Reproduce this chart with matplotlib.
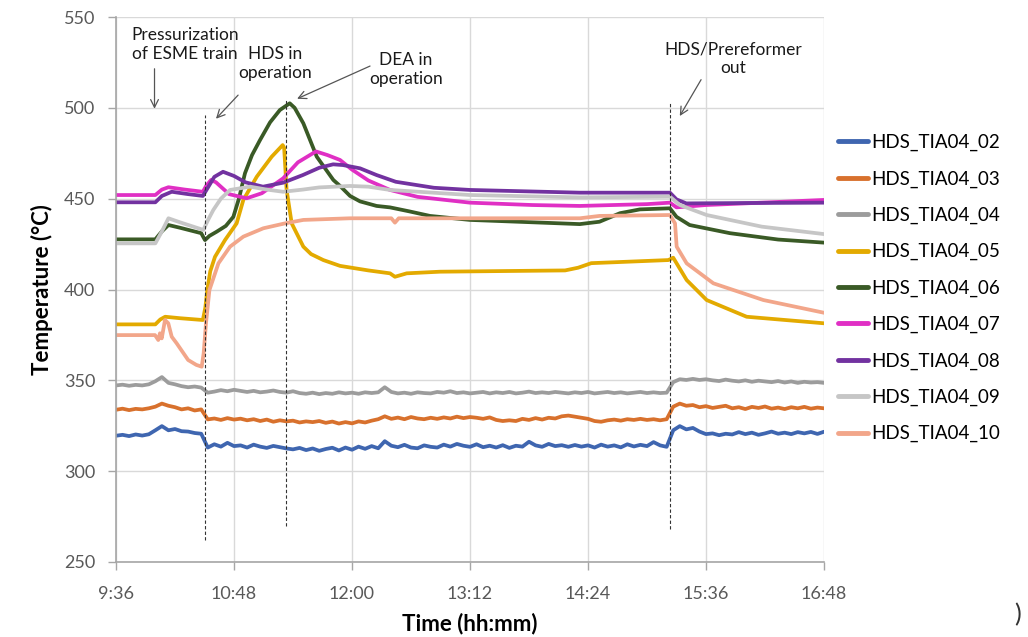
import matplotlib
matplotlib.use("Agg")
import matplotlib.pyplot as plt
from matplotlib.ticker import FixedLocator, FuncFormatter

plt.rcParams['font.family'] = ['Lato', 'DejaVu Sans']

# ---------------- data (time in minutes since midnight, temperature in degC) ----------------
labels = ["HDS_TIA04_02", "HDS_TIA04_03", "HDS_TIA04_04", "HDS_TIA04_05", "HDS_TIA04_06",
          "HDS_TIA04_07", "HDS_TIA04_08", "HDS_TIA04_09", "HDS_TIA04_10"]
colors = ["#3F66B0", "#D8712D", "#9C9C9C", "#E3AA00", "#3A5A26",
          "#E02FC4", "#7232A0", "#C6C6C6", "#F2A68A"]

# noisy series share a 4-minute time grid 9:36 ... 16:48
t_noisy = list(range(576, 1009, 4))

t02_vals = [
    319.5, 320.0, 319.3, 320.2, 319.6, 320.3, 322.5, 324.8, 322.5, 323.2,
    322.0, 321.8, 321.0, 320.6, 313.0, 314.8, 313.5, 315.6, 313.8, 314.2,
    313.0, 314.6, 313.5, 312.8, 313.9, 313.2, 312.5, 312.0, 312.8, 311.6,
    312.5, 311.2, 312.2, 312.9, 311.4, 313.0, 311.8, 313.5, 312.3, 313.8,
    312.6, 316.5, 314.0, 313.2, 314.5, 313.0, 312.6, 314.2, 313.4, 313.0,
    314.6, 313.5, 315.0, 314.0, 313.4, 314.8, 313.2, 314.0, 313.0, 314.3,
    312.8, 314.0, 313.5, 316.2, 314.2, 313.4, 315.0, 313.8, 314.3, 313.4,
    314.4, 313.5, 314.2, 313.0, 314.6, 313.5, 314.2, 313.1, 314.8, 313.6,
    314.5, 313.8, 316.0, 314.2, 313.4, 322.5, 324.8, 323.0, 323.8, 321.8,
    320.4, 320.8, 319.8, 320.6, 320.2, 321.5, 320.4, 321.2, 320.0, 320.8,
    321.8, 320.6, 321.2, 320.4, 321.5, 320.8, 321.6, 320.5, 321.7]

t03_vals = [
    333.8, 334.4, 333.6, 334.3, 334.0, 334.6, 335.5, 337.2, 336.0, 335.2,
    334.0, 334.6, 333.4, 334.0, 328.5, 329.0, 328.2, 329.2, 328.4, 328.9,
    328.0, 328.6, 327.6, 328.4, 327.2, 328.0, 327.4, 327.8, 326.8, 327.4,
    327.0, 327.6, 326.6, 327.3, 326.2, 327.0, 326.3, 327.4, 326.8, 327.8,
    328.6, 330.2, 328.8, 329.5, 328.6, 329.8, 329.0, 328.6, 329.4, 328.8,
    329.6, 329.0, 330.0, 329.2, 329.8, 329.4, 328.8, 329.6, 328.2, 327.6,
    328.0, 327.6, 328.8, 328.2, 329.2, 328.4, 329.4, 329.0, 330.2, 330.6,
    330.0, 329.4, 328.8, 327.6, 327.2, 328.0, 328.4, 327.8, 328.6, 328.2,
    328.8, 328.2, 328.6, 328.0, 328.6, 335.5, 337.2, 336.0, 336.4, 335.2,
    335.8, 334.8, 335.4, 336.0, 334.6, 335.2, 334.2, 335.4, 334.8, 335.6,
    334.4, 335.0, 334.2, 335.2, 334.6, 335.4, 334.4, 335.0, 334.6]

t04_vals = [
    347.2, 347.6, 347.0, 347.5, 347.2, 347.8, 349.5, 351.8, 348.6, 347.8,
    346.8, 346.2, 346.6, 346.0, 343.2, 343.8, 344.6, 344.0, 344.8, 344.2,
    343.6, 344.2, 343.4, 343.8, 344.4, 343.6, 343.2, 344.0, 343.0, 342.6,
    343.2, 342.4, 343.0, 342.6, 343.4, 342.8, 343.2, 342.6, 343.4, 343.0,
    343.4, 346.2, 343.6, 342.8, 343.2, 342.6, 343.4, 343.0, 342.8, 343.6,
    343.2, 344.0, 343.0, 343.4, 342.8, 343.2, 343.6, 342.8, 343.4, 343.0,
    343.6, 342.8, 343.2, 343.8, 343.0, 343.4, 343.0, 343.6, 343.2, 342.8,
    343.4, 343.0, 343.6, 342.8, 343.2, 343.6, 343.0, 343.4, 342.8, 343.2,
    343.6, 343.0, 343.4, 343.0, 343.2, 349.0, 350.6, 350.2, 350.8, 350.2,
    350.6, 350.0, 349.6, 350.4, 349.8, 349.4, 350.0, 349.2, 349.8, 349.4,
    349.0, 349.6, 348.8, 349.4, 348.6, 349.2, 348.8, 349.0, 348.6]

t05_time = [576, 600, 603, 606, 615, 629, 630.5, 631.7, 633.5, 636.4, 642.5, 649.6, 653.7,
            661.9, 671, 677.7, 678.6, 680.1, 683.2, 690.3, 695, 702.5, 712.7, 730, 743.2,
            746.2, 753.4, 773.7, 850, 858, 866, 880, 913, 916, 924.2, 936.4, 960.8, 1008]
t05_vals = [380.8, 380.8, 383.5, 385.0, 384.2, 383.2, 390.0, 399.7, 410.0, 418.0, 427.2, 436.4, 449.3,
            462.1, 473.1, 479.5, 478.0, 454.8, 436.4, 423.6, 419.5, 416.2, 413.0, 410.5, 408.9,
            407.0, 408.9, 409.8, 410.5, 412.0, 414.5, 415.0, 416.2, 417.5, 405.2, 394.2, 385.0, 381.4]

t06_time = [576, 600, 604, 608, 615, 628, 630.3, 633, 637.4, 643, 647.6, 651, 654.7, 659,
            663.9, 670, 676, 682, 685, 690.3, 698.5, 708.6, 712.7, 718.8, 724.9, 735, 743.2,
            755, 767.6, 792, 830, 859, 871, 883.5, 895.7, 914, 918, 926, 950.6, 980, 1008]
t06_vals = [427.6, 427.6, 432.0, 435.5, 434.0, 431.0, 427.2, 429.5, 431.8, 435.0, 440.0, 450.0, 464.0, 474.0,
            482.3, 492.0, 498.8, 502.5, 500.0, 491.5, 473.1, 460.3, 457.0, 451.5, 448.5, 446.0, 445.2,
            443.0, 440.5, 438.3, 437.0, 436.0, 437.3, 442.0, 444.1, 444.7, 440.0, 435.5, 431.0, 427.5, 425.8]

t07_time = [576, 600, 604, 608, 618, 629, 631, 634, 637, 645, 655.7, 665, 678, 687, 698,
            705, 712.7, 720, 730, 743.2, 760, 792, 830, 859, 900, 914, 918, 936, 970, 1008]
t07_vals = [452.0, 452.0, 455.0, 456.3, 455.0, 453.8, 457.0, 460.3, 459.0, 452.5, 450.2, 453.0, 461.2, 470.0, 476.0,
            474.0, 471.3, 466.0, 460.0, 454.8, 451.0, 447.8, 446.5, 446.0, 447.0, 447.8, 445.2, 446.5, 447.8, 449.3]

t08_time = [576, 600, 604, 610, 620, 629, 632, 636, 641.3, 648, 655, 665.7, 678, 690,
            700, 708.5, 714.5, 724.9, 735, 746.7, 770, 792, 859, 914, 918, 924, 960, 1008]
t08_vals = [448.0, 448.0, 451.5, 453.8, 452.5, 451.5, 456.0, 462.0, 464.8, 462.5, 459.0, 456.6, 458.8, 463.0,
            467.0, 468.9, 468.5, 466.7, 463.0, 459.3, 456.0, 454.8, 453.3, 453.3, 449.6, 447.4, 447.6, 447.8]

t09_time = [576, 600, 604, 608, 615, 629.3, 632, 635.4, 640, 645.6, 657.8, 668, 678, 690,
            700, 718.8, 730, 743.2, 792, 859, 914, 920, 936.4, 970, 1008]
t09_vals = [425.4, 425.4, 432.0, 439.2, 437.0, 432.8, 438.0, 443.8, 450.0, 454.8, 456.6, 455.0, 453.8, 455.0,
            456.2, 457.0, 456.6, 454.8, 452.0, 450.7, 451.1, 446.5, 441.0, 434.6, 430.5]

t10_time = [576, 599.8, 601.8, 602.8, 603.9, 605.9, 607.9, 610, 613, 620, 625, 628.3, 629.5,
            630.9, 633, 638.5, 645.6, 653.7, 665.9, 679.1, 690.3, 718.8, 744, 746.2, 748.5,
            859, 871, 914, 917.1, 918.1, 924.2, 940.5, 971, 1008]
t10_vals = [374.9, 374.9, 372.2, 375.9, 373.1, 383.2, 381.4, 374.0, 370.4, 361.2, 358.5, 357.5, 365.0,
            381.4, 399.7, 414.4, 423.6, 429.1, 433.7, 436.4, 438.3, 439.2, 439.2, 436.8, 439.2,
            439.2, 440.5, 441.0, 436.4, 423.6, 414.4, 403.4, 394.2, 387.2]

series_times = [t_noisy, t_noisy, t_noisy, t05_time, t06_time, t07_time, t08_time, t09_time, t10_time]
series_vals = [t02_vals, t03_vals, t04_vals, t05_vals, t06_vals, t07_vals, t08_vals, t09_vals, t10_vals]

x_ticks = [576, 648, 720, 792, 864, 936, 1008]
y_ticks = [250, 300, 350, 400, 450, 500, 550]

# event markers: (time, top temp, bottom temp)
event_lines = [(630, 496, 262), (679.5, 505, 270), (914, 503, 268)]
# annotations: text, text position (time, temp), arrow tail, arrow head
annotations = [
    ("Pressurization\nof ESME train", (618, 535), (599.5, 521.5), (599.5, 499.5)),
    ("HDS in\noperation", (673, 524.5), (650.5, 507), (637, 494)),
    ("DEA in\noperation", (753, 521), (731, 523), (686.5, 505)),
    ("HDS/Prereformer\nout", (952.5, 527), (933, 515.5), (920, 495.5)),
]

# ---------------- figure ----------------
fig = plt.figure(figsize=(10.28, 6.37), dpi=100)
ax = fig.add_axes([116/1028, 1-562/637, 708/1028, 545/637])

for t, v, lab, c in zip(series_times, series_vals, labels, colors):
    ax.plot(t, v, color=c, lw=2.7, label=lab, solid_capstyle='round', solid_joinstyle='round')

for tx, ytop, ybot in event_lines:
    ax.plot([tx, tx], [ybot, ytop], color="#333333", lw=0.8, ls=(0, (3, 2)), zorder=5)

for txt, tpos, tail, head in annotations:
    ax.text(tpos[0], tpos[1], txt, ha='center', va='center', fontsize=12.5,
            color="#1a1a1a", linespacing=1.25, zorder=6)
    ax.annotate("", xy=head, xytext=tail,
                arrowprops=dict(arrowstyle="->", color="#555555", lw=0.9,
                                shrinkA=0, shrinkB=0, mutation_scale=14), zorder=6)

ax.set_xlim(576, 1008)
ax.set_ylim(250, 550)
ax.xaxis.set_major_locator(FixedLocator(x_ticks))
ax.yaxis.set_major_locator(FixedLocator(y_ticks))
ax.xaxis.set_major_formatter(FuncFormatter(lambda v, p: f"{int(v)//60}:{int(v)%60:02d}"))

ax.grid(True, color="#D9D9D9", lw=1.0)
ax.set_axisbelow(True)
for s in ["top", "right"]:
    ax.spines[s].set_visible(False)
for s in ["left", "bottom"]:
    ax.spines[s].set_color("#A6A6A6")
    ax.spines[s].set_linewidth(1.2)
ax.tick_params(axis='both', which='major', length=6, width=1.0, color="#A6A6A6",
               labelcolor="#595959", labelsize=13)
ax.tick_params(axis='y', pad=9)
ax.tick_params(axis='x', pad=11)

ax.set_xlabel("Time (hh:mm)", fontsize=16, fontweight='bold', labelpad=8)
ax.set_ylabel("Temperature (°C)", fontsize=16, fontweight='bold', labelpad=8)

leg = ax.legend(loc='upper left', bbox_to_anchor=(838/1028, 1-134/637), bbox_transform=fig.transFigure,
                frameon=False, fontsize=13.5, handlelength=1.6, handletextpad=0.15,
                labelspacing=1.02, borderaxespad=0, borderpad=0)
for line in leg.get_lines():
    line.set_linewidth(3.5)

fig.text(1018/1028, 1-615/637, ")", fontsize=18, color="#333333", ha='center', va='center')

fig.savefig("out.png", dpi=100)
